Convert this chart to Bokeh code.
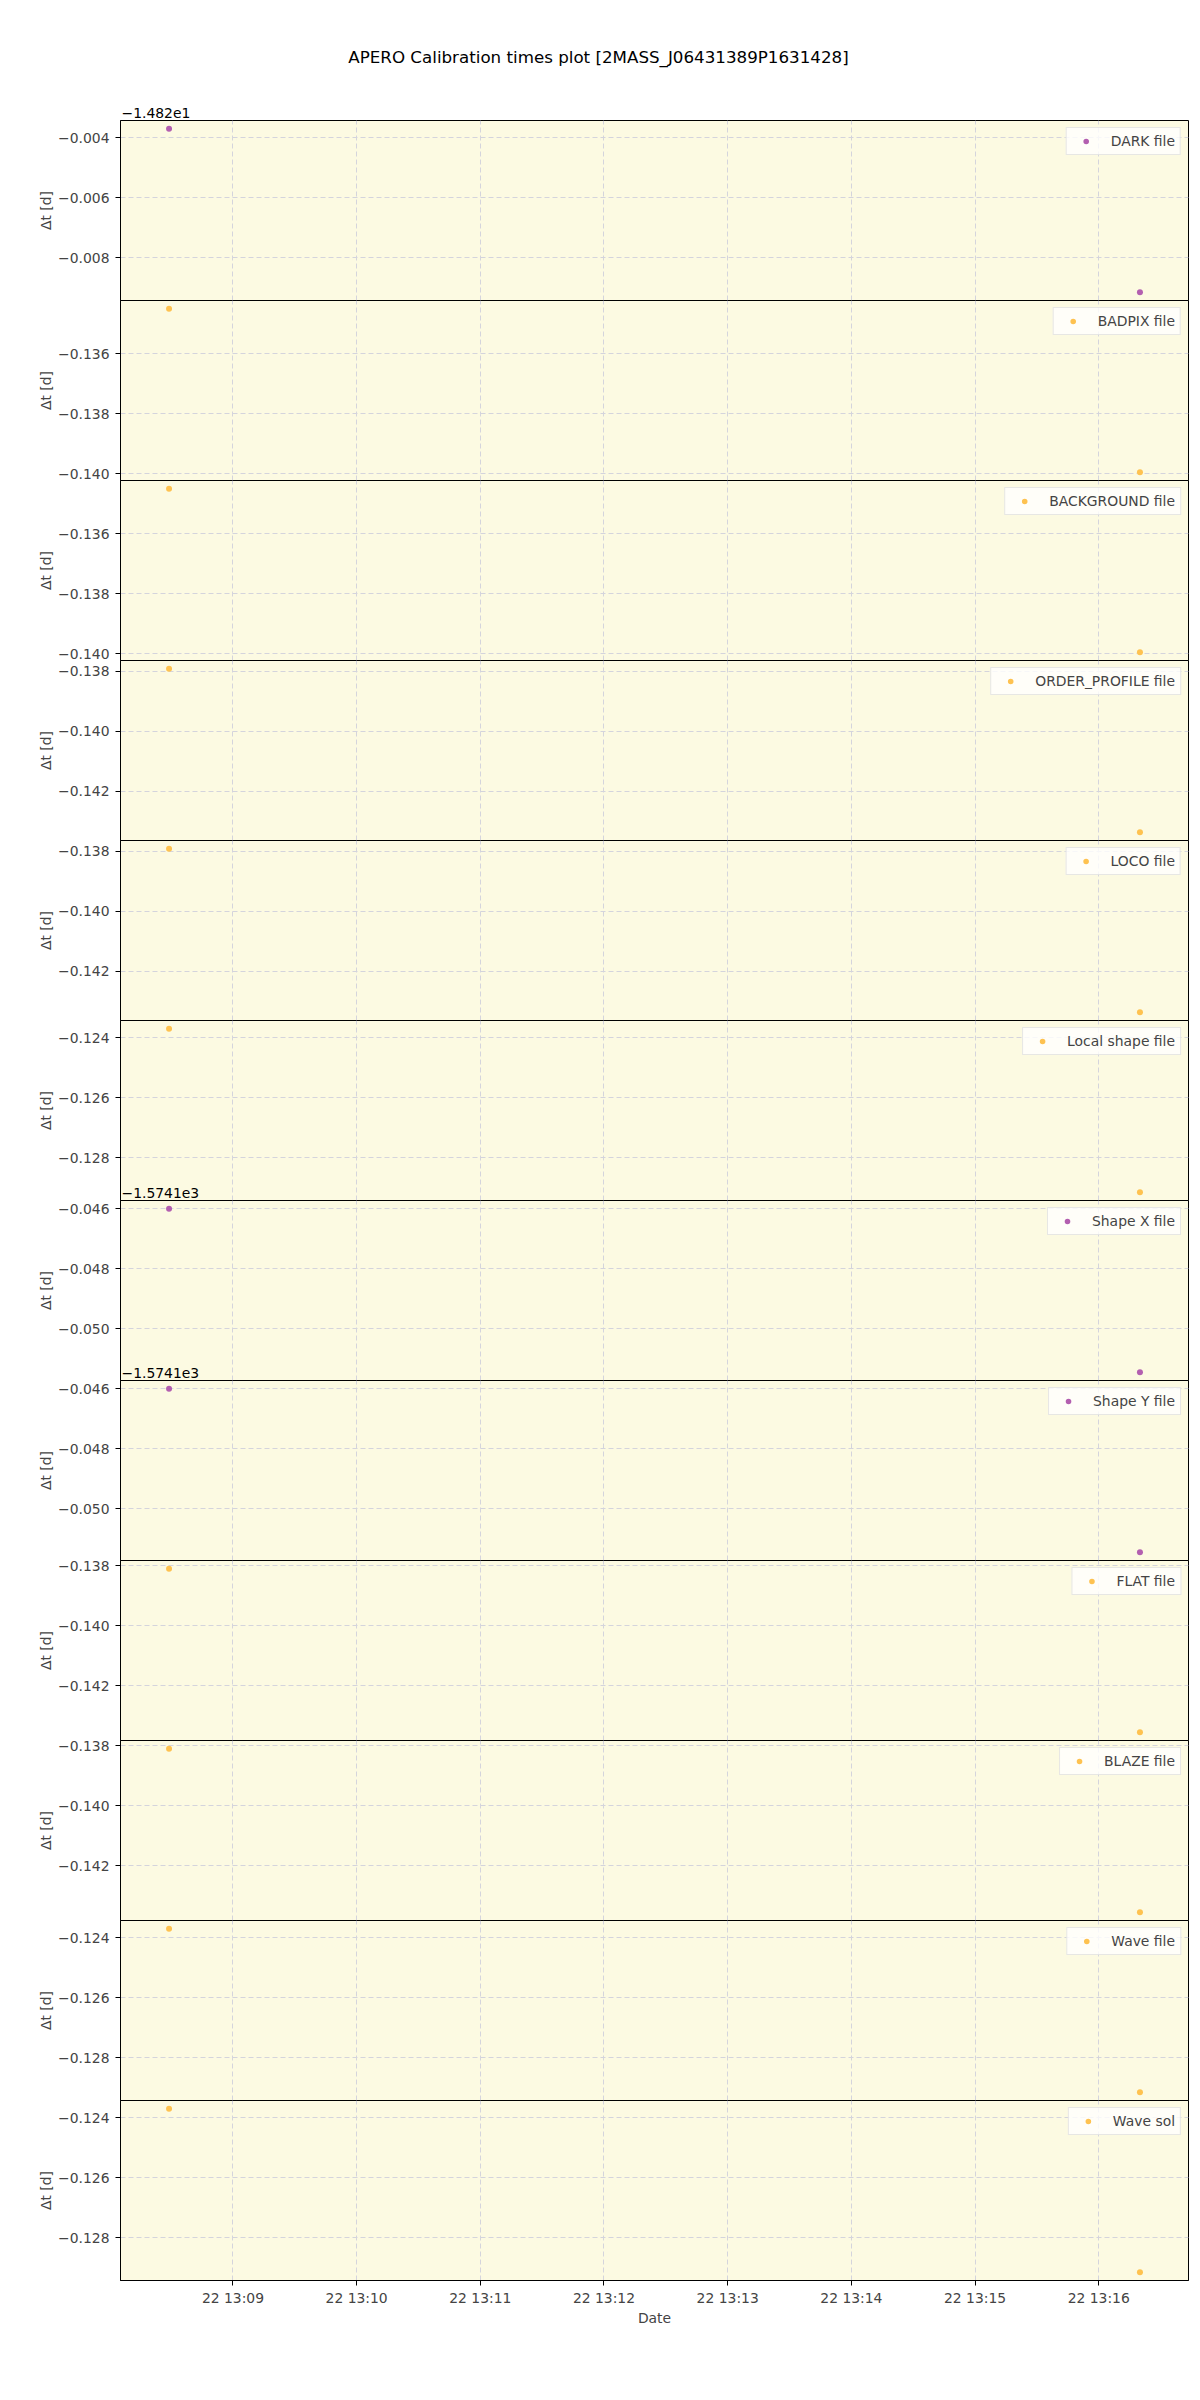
import pandas as pd
from bokeh.plotting import figure
from bokeh.layouts import column
from bokeh.models import (Range1d, FixedTicker, SingleIntervalTicker, CustomJSTickFormatter,
                          DatetimeTickFormatter, Label)
from bokeh.embed import file_html
from bokeh.resources import INLINE

# ---------------- data ----------------
title_text = "APERO Calibration times plot [2MASS_J06431389P1631428]"
obs_day = "2020-10-22"
obs_times = ["13:08:29", "13:16:20"]
x_tick_times = ["13:09", "13:10", "13:11", "13:12", "13:13", "13:14", "13:15", "13:16"]

labels = ["DARK file", "BADPIX file", "BACKGROUND file", "ORDER_PROFILE file", "LOCO file",
          "Local shape file", "Shape X file", "Shape Y file", "FLAT file", "BLAZE file",
          "Wave file", "Wave sol"]
kinds = ["purple", "orange", "orange", "orange", "orange", "orange",
         "purple", "purple", "orange", "orange", "orange", "orange"]

dark = [-14.8237, -14.82915]
badpix = [-0.13449, -0.13995]
background = [-0.13449, -0.13995]
order_profile = [-0.13791, -0.14336]
loco = [-0.13791, -0.14336]
local_shape = [-0.12369, -0.12915]
shape_x = [-1574.14600, -1574.15146]
shape_y = [-1574.14600, -1574.15146]
flat = [-0.13809, -0.14355]
blaze = [-0.13809, -0.14355]
wave_file = [-0.12369, -0.12915]
wave_sol = [-0.12369, -0.12915]
series = [dark, badpix, background, order_profile, loco, local_shape,
          shape_x, shape_y, flat, blaze, wave_file, wave_sol]

offsets = [-14.82, 0, 0, 0, 0, 0, -1574.1, -1574.1, 0, 0, 0, 0]
offset_texts = ["\u22121.482e1", None, None, None, None, None,
                "\u22121.5741e3", "\u22121.5741e3", None, None, None, None]

# ---------------- style ----------------
FONT = "DejaVu Sans"
FS = "13.9px"
COLORS = {"purple": "#b35fb0", "orange": "#fec250"}
BG = "#fcfae2"
GRID = "#d4d4dc"
LEFT = 120
FRAME_W = 1068
RIGHT = 8
W = LEFT + FRAME_W + RIGHT
PANEL_H = 180
HEADER_H = 120
BOTTOM = 50
OV = 14  # transparent overlap so tick labels at panel edges are not clipped

times = pd.to_datetime([f"{obs_day} {t}" for t in obs_times])
t_ms = [t.value / 1e6 for t in times]
span = t_ms[-1] - t_ms[0]
xr = Range1d(t_ms[0] - 0.05 * span, t_ms[-1] + 0.05 * span)
x_ticks = [pd.Timestamp(f"{obs_day} {t}").value / 1e6 for t in x_tick_times]

# ---------------- header (title + first offset text), page-pixel coordinates ----------------
header = figure(width=W, height=HEADER_H, x_range=Range1d(LEFT, LEFT + FRAME_W),
                y_range=Range1d(HEADER_H, 0), x_axis_type=None, y_axis_type=None,
                toolbar_location=None, output_backend="svg",
                min_border_left=LEFT, min_border_right=RIGHT, min_border_top=0, min_border_bottom=0,
                outline_line_color=None)
header.border_fill_alpha = 0
header.background_fill_alpha = 0
header.add_layout(Label(x=W / 2, y=56, text=title_text, text_align="center", text_baseline="middle",
                        text_font=FONT, text_font_size="16.7px", text_color="black"))
header.add_layout(Label(x=LEFT + 1, y=HEADER_H - 3, text=offset_texts[0], text_align="left",
                        text_baseline="bottom", text_font=FONT, text_font_size=FS,
                        text_color="black"))

panels = [header]
n = len(series)
for i, (vals, lab, kind, off) in enumerate(zip(series, labels, kinds, offsets)):
    last = i == n - 1
    bot = BOTTOM if last else OV
    ymin, ymax = min(vals), max(vals)
    ys = ymax - ymin
    yr = Range1d(ymin - 0.05 * ys, ymax + 0.05 * ys)
    p = figure(width=W, height=PANEL_H + OV + bot, x_range=xr, y_range=yr,
               x_axis_type="datetime", toolbar_location=None, output_backend="svg",
               min_border_left=LEFT, min_border_right=RIGHT, min_border_top=OV,
               min_border_bottom=bot,
               margin=(-OV, 0, 0 if last else -OV, 0))
    p.background_fill_color = BG
    p.border_fill_alpha = 0
    p.outline_line_color = "black"
    p.outline_line_width = 1
    p.scatter(t_ms, vals, size=6, fill_color=COLORS[kind], line_color=None, legend_label=lab)

    p.yaxis.ticker = SingleIntervalTicker(interval=0.002, num_minor_ticks=0)
    p.yaxis.formatter = CustomJSTickFormatter(args=dict(off=off), code="""
        const v = tick - off;
        const s = Math.abs(v).toFixed(3);
        return (v < 0 && s !== '0.000' ? '\u2212' : '') + s;
    """)
    p.yaxis.axis_label = "\u0394t [d]"
    p.yaxis.axis_label_text_font_style = "normal"
    p.yaxis.axis_label_text_font = FONT
    p.yaxis.axis_label_text_font_size = FS
    p.yaxis.axis_label_standoff = 1
    p.yaxis.major_label_text_font = FONT
    p.yaxis.major_label_text_font_size = FS
    p.yaxis.major_label_standoff = 6
    p.yaxis.major_tick_out = 5
    p.yaxis.major_tick_in = 0
    p.yaxis.minor_tick_out = 0
    p.yaxis.minor_tick_in = 0
    p.yaxis.axis_line_color = "black"

    p.xaxis.ticker = FixedTicker(ticks=x_ticks)
    p.xaxis.formatter = DatetimeTickFormatter(minutes="%d %H:%M", hours="%d %H:%M",
                                              minsec="%d %H:%M", seconds="%d %H:%M")
    if last:
        p.xaxis.axis_label = "Date"
        p.xaxis.axis_label_text_font_style = "normal"
        p.xaxis.axis_label_text_font = FONT
        p.xaxis.axis_label_text_font_size = FS
        p.xaxis.axis_label_standoff = 1
        p.xaxis.major_label_text_font = FONT
        p.xaxis.major_label_text_font_size = FS
        p.xaxis.major_label_standoff = 4
        p.xaxis.major_tick_out = 5
        p.xaxis.major_tick_in = 0
        p.xaxis.minor_tick_out = 0
        p.xaxis.minor_tick_in = 0
        p.xaxis.axis_line_color = "black"
    else:
        p.xaxis.visible = False

    for g in (p.xgrid, p.ygrid):
        g.grid_line_color = GRID
        g.grid_line_dash = "5 3"
        g.grid_line_width = 1

    lg = p.legend[0]
    lg.location = "top_right"
    lg.margin = 7
    lg.padding = 5
    lg.spacing = 0
    lg.glyph_width = 28
    lg.glyph_height = 14
    lg.label_standoff = 11
    lg.label_text_font = FONT
    lg.label_text_font_size = FS
    lg.background_fill_color = "white"
    lg.background_fill_alpha = 0.8
    lg.border_line_color = "#d0d0d0"
    lg.border_line_width = 1

    # offset text of the next panel sits at the bottom-left of this one
    if i + 1 < n and offset_texts[i + 1]:
        p.add_layout(Label(x=xr.start, y=yr.start, x_offset=1, y_offset=3, text=offset_texts[i + 1],
                           text_align="left", text_baseline="bottom", text_font=FONT,
                           text_font_size=FS, text_color="black"))
    panels.append(p)

layout = column(*panels, spacing=0)
open("out.html", "w").write(file_html(layout, INLINE, title="APERO Calibration times plot"))
